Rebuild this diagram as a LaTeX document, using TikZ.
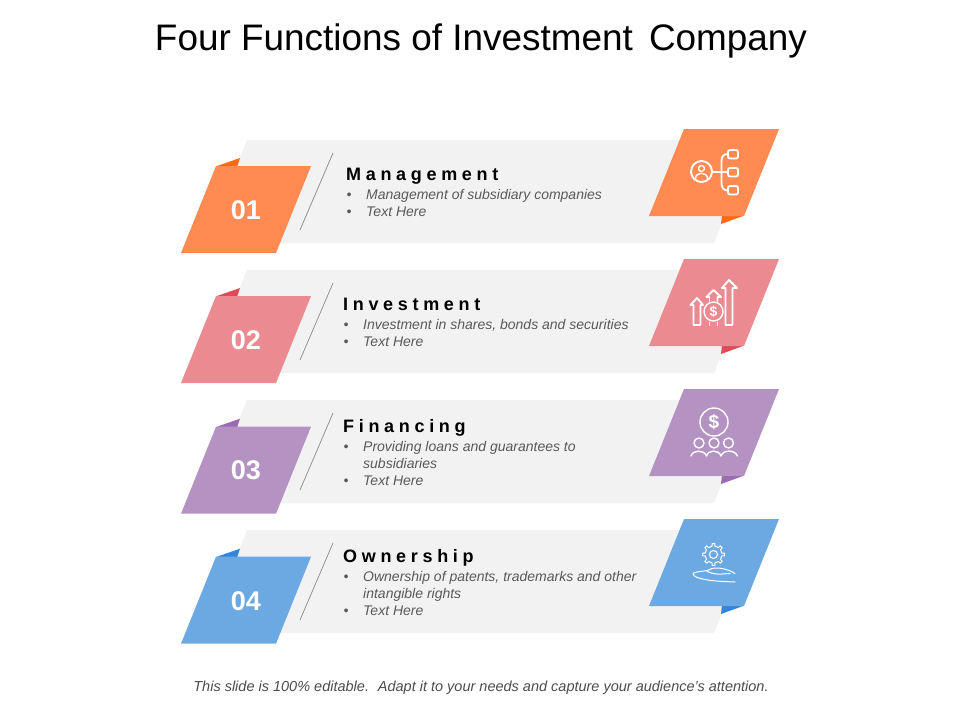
\documentclass[tikz,border=0pt]{standalone}
\usepackage{fontspec}
\setmainfont{Liberation Sans}
\newfontfamily\headfont[LetterSpace=26,Ligatures=NoCommon]{Liberation Sans}
\definecolor{cOrange}{HTML}{FF8B52}\definecolor{fOrange}{HTML}{FF6A1A}
\definecolor{cPink}{HTML}{EB8A90}\definecolor{fPink}{HTML}{DE4A55}
\definecolor{cPurple}{HTML}{B492C2}\definecolor{fPurple}{HTML}{9A6BB0}
\definecolor{cBlue}{HTML}{6CA9E3}\definecolor{fBlue}{HTML}{2F86DB}
\definecolor{band}{HTML}{F2F2F2}
\definecolor{txt}{HTML}{595959}
\tikzset{
  titletext/.style={inner sep=0,anchor=base,font=\fontsize{36.9}{40}\selectfont,text=black},
  foottext/.style={inner sep=0,anchor=base,font=\fontsize{14.5}{16}\selectfont\itshape,text=txt!85!black},
  headtext/.style={inner sep=0,anchor=base west,font=\fontsize{18}{20}\selectfont\headfont\bfseries,text=black},
  bodytext/.style={inner sep=0,anchor=base west,font=\fontsize{14}{16}\selectfont\itshape,text=txt},
  numtext/.style={inner sep=0,anchor=center,font=\fontsize{27}{30}\selectfont\bfseries,text=white},
  icon/.style={draw=white,line width=1.9pt,line cap=round,line join=round,fill=none},
  iconmid/.style={draw=white,line width=1.4pt,line cap=round,line join=round,fill=none},
  iconthin/.style={draw=white,line width=1.0pt,line cap=round,line join=round,fill=none},
  slash/.style={draw=gray!85,line width=0.8pt}
}
% #1 y offset, #2 main colour, #3 fold colour, #4 number, #5 name prefix, #6 extra offset of the left tab
\newcommand{\rowshapes}[6]{%
  \begin{scope}[yshift=#1]
    \fill[band] (247,140) -- (755,140) -- (714,243) -- (206,243) -- cycle;
    \fill[#3] (721,224) -- (743,216) -- (722,215) -- cycle;
    \fill[#2] (684,129) -- (779,129) -- (744,216) -- (649,216) -- cycle;
    \coordinate (#5a) at (333,153);
    \coordinate (#5b) at (300,230);
    \draw[slash] (#5a) -- (#5b);
    \begin{scope}[yshift=#6]
      \fill[#3] (217,166) -- (240,158) -- (237,167) -- cycle;
      \fill[#2] (216,166) -- (311,166) -- (276,253) -- (181,253) -- cycle;
      \node[numtext] (#5n) at (246,210) {#4};
    \end{scope}
  \end{scope}}
\newcommand{\bulletrow}[4]{% x, y, name, text
  \node[bodytext,text=txt] (#3b) at (#1,#2) {\textbullet};
  \node[bodytext] (#3t) at (#1+19.5,#2) {#4};}
\begin{document}
\begin{tikzpicture}[x=1pt,y=-1pt]
\useasboundingbox (0,0) rectangle (960,720);
\fill[white] (0,0) rectangle (960,720);
\node[titletext] (title) at (481,50) {Four Functions of Investment\hspace{6pt} Company};

\rowshapes{0pt}{cOrange}{fOrange}{01}{ra}{0pt}
\rowshapes{-130pt}{cPink}{fPink}{02}{rb}{0pt}
\rowshapes{-260pt}{cPurple}{fPurple}{03}{rc}{-0.7pt}
\rowshapes{-390pt}{cBlue}{fBlue}{04}{rd}{-0.7pt}

% Row 1 text
\node[headtext] (h1) at (346,180) {Management};
\bulletrow{346.5}{199}{a1}{Management of subsidiary companies}
\bulletrow{346.5}{216}{a2}{Text Here}
% Row 2 text
\node[headtext] (h2) at (343,310) {Investment};
\bulletrow{343.5}{329}{b1}{Investment in shares, bonds and securities}
\bulletrow{343.5}{346}{b2}{Text Here}
% Row 3 text
\node[headtext] (h3) at (343,432) {Financing};
\bulletrow{343.5}{451}{c1}{Providing loans and guarantees to}
\node[bodytext] (c1x) at (363,468) {subsidiaries};
\bulletrow{343.5}{485}{c2}{Text Here}
% Row 4 text
\node[headtext] (h4) at (343,562) {Ownership};
\bulletrow{343.5}{581}{d1}{Ownership of patents, trademarks and other}
\node[bodytext] (d1x) at (363,598) {intangible rights};
\bulletrow{343.5}{615}{d2}{Text Here}

% Icon 1: organisation
\draw[icon] (701.5,171.5) circle (10.5);
\draw[iconmid] (701.5,168.5) circle (3);
\draw[iconmid] (695.5,178.5) .. controls (695.5,171.5) and (707.5,171.5) .. (707.5,178.5);
\draw[icon] (712,172) -- (728,172);
\draw[icon] (728,154) .. controls (723,154) and (721.5,157) .. (721.5,161) -- (721.5,183) .. controls (721.5,187) and (723,190.5) .. (728,190.5);
\draw[icon,rounded corners=2pt] (728,150) rectangle (738,158.5);
\draw[icon,rounded corners=2pt] (728,168) rectangle (738,176.5);
\draw[icon,rounded corners=2pt] (728,186) rectangle (738,194.5);

% Icon 2: growth
\draw[icon] (725.5,325) -- (725.5,288) -- (722,288) -- (729,280) -- (737,288) -- (732.5,288) -- (732.5,325) -- cycle;
\draw[icon] (703,305) -- (697,298) -- (690.5,305) -- (693.5,305) -- (693.5,325) -- (700.5,325) -- (700.5,305) -- (703,305);
\draw[icon] (706.5,297) -- (713.5,290) -- (721,297) -- (717.5,297) -- (717.5,301);
\draw[icon] (706.5,297) -- (709.5,297) -- (709.5,301);
\draw[icon] (709.5,322.5) -- (709.5,325);
\draw[icon] (717.5,322.5) -- (717.5,325);
\draw[iconmid] (713.5,311.5) circle (9.5);
\node[inner sep=0,font=\fontsize{14}{16}\selectfont\bfseries,text=white] (dollar2) at (713.5,311.5) {\$};

% Icon 3: investors
\draw[iconmid] (714,422) circle (14);
\node[inner sep=0,font=\fontsize{19}{20}\selectfont\bfseries,text=white] (dollar3) at (714,422) {\$};
\draw[iconmid] (699,443) circle (5);
\draw[iconmid] (714,443) circle (5);
\draw[iconmid] (728.5,443) circle (5);
\draw[iconmid] (691,456) .. controls (693,449.5) and (704,449.5) .. (706.5,456)
  .. controls (708,449.5) and (719,449.5) .. (721,456)
  .. controls (723,449.5) and (735,449.5) .. (737.5,456);

% Icon 4: gear and hand
\begin{scope}[shift={(713.5,554.5)}]
  \draw[iconthin] (-10:8.5)
    foreach \a in {0,45,...,315} {
      -- ({\a-10}:8.5) -- ({\a-7}:11) -- ({\a+7}:11) -- ({\a+10}:8.5) -- ({\a+35}:8.5)
    } -- cycle;
  \draw[iconthin] (0,0) circle (4);
\end{scope}
\draw[iconthin]
  (735,573.5) .. controls (728,569) and (718,567) .. (712,568.5) .. controls (709,570) and (706,571) .. (704,571)
  .. controls (700,571.5) and (695,572) .. (693,573.5) .. controls (693,577) and (700,578.5) .. (705,579.5)
  .. controls (715,581.5) and (726,581.5) .. (735,582);
\draw[iconthin] (706.5,571) .. controls (712,574) and (718,574.5) .. (722,574) .. controls (725,573.8) and (728,573.5) .. (730,573.5);

% Footer
\node[foottext] (foot) at (481,691) {This slide is 100\% editable.\hspace{3.5pt} Adapt it to your needs and capture your audience's attention.};
\end{tikzpicture}
\end{document}
